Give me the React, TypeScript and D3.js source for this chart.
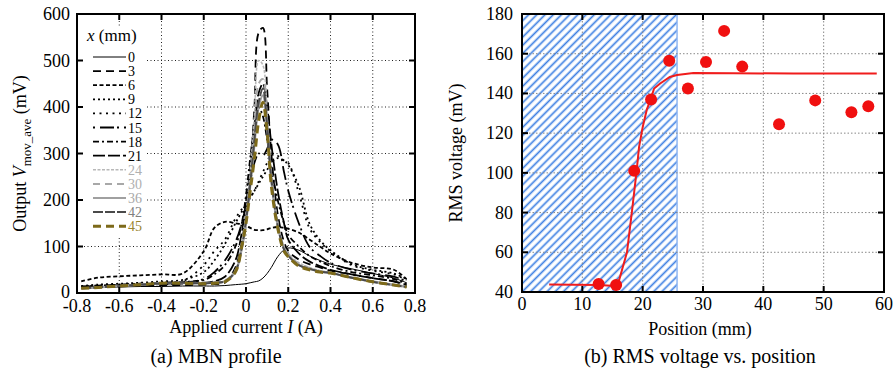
import React from 'react';
import * as d3 from 'd3';

// ---- data: (a) MBN profile ----
const currentA = [-0.78, -0.7, -0.6, -0.5, -0.4, -0.3, -0.2, -0.15, -0.1, -0.05, -0.02, 0, 0.02, 0.04, 0.06, 0.08, 0.1, 0.12, 0.15, 0.18, 0.2, 0.25, 0.3, 0.35, 0.4, 0.5, 0.6, 0.7, 0.76];

const mbn0 = [10, 12, 13, 14, 14, 15, 15, 15, 16, 18, 19, 20, 22, 24, 26, 32, 42, 55, 78, 93, 97, 92, 80, 70, 62, 52, 42, 32, 22];
const mbn3 = [12, 13, 14, 16, 17, 17, 18, 19, 22, 55, 110, 170, 260, 400, 560, 570, 440, 300, 170, 110, 90, 72, 62, 55, 48, 40, 32, 25, 16];
const mbn6 = [25, 33, 36, 38, 40, 42, 90, 140, 153, 150, 148, 145, 140, 136, 135, 135, 137, 140, 142, 140, 138, 130, 115, 100, 85, 65, 55, 50, 30];
const mbn9 = [15, 18, 20, 22, 25, 28, 45, 70, 105, 150, 175, 190, 205, 220, 235, 250, 265, 280, 290, 285, 275, 230, 150, 114, 92, 62, 50, 42, 30];
const mbn12 = [14, 16, 18, 20, 22, 25, 60, 90, 115, 160, 180, 190, 205, 220, 240, 260, 280, 300, 295, 285, 280, 215, 140, 110, 90, 60, 48, 40, 28];
const mbn15 = [12, 14, 16, 18, 20, 22, 30, 45, 70, 110, 150, 190, 240, 280, 300, 295, 310, 330, 320, 260, 220, 150, 100, 80, 65, 50, 42, 35, 25];
const mbn18 = [14, 16, 18, 20, 22, 24, 28, 40, 60, 100, 150, 210, 290, 360, 400, 380, 330, 270, 200, 150, 125, 100, 80, 68, 58, 45, 38, 30, 20];
const mbn21 = [12, 13, 15, 17, 19, 20, 22, 25, 35, 70, 130, 190, 270, 360, 430, 450, 400, 320, 220, 150, 115, 85, 68, 58, 50, 40, 32, 25, 18];
const mbn24 = [10, 12, 15, 18, 21, 22, 22, 23, 26, 50, 110, 170, 260, 380, 500, 490, 380, 260, 150, 100, 85, 65, 55, 48, 44, 34, 25, 18, 14];
const mbn30 = [10, 12, 15, 18, 21, 22, 22, 23, 27, 48, 100, 160, 245, 350, 450, 460, 370, 250, 150, 98, 84, 63, 54, 47, 43, 33, 25, 18, 14];
const mbn36 = [10, 12, 15, 18, 21, 22, 21, 22, 25, 46, 95, 152, 230, 320, 400, 425, 355, 240, 145, 95, 82, 60, 52, 46, 43, 33, 24, 17, 13];
const mbn42 = [10, 12, 15, 18, 21, 22, 21, 22, 25, 47, 98, 155, 235, 330, 410, 440, 360, 245, 145, 94, 80, 60, 52, 46, 43, 33, 24, 17, 13];
const mbn45 = [10, 12, 15, 18, 21, 21, 20, 21, 24, 45, 100, 150, 220, 290, 370, 410, 345, 230, 140, 90, 78, 58, 50, 45, 43, 33, 24, 17, 13];

const positionsX = ['0', '3', '6', '9', '12', '15', '18', '21', '24', '30', '36', '42', '45'];
const mbnSeries = [mbn0, mbn3, mbn6, mbn9, mbn12, mbn15, mbn18, mbn21, mbn24, mbn30, mbn36, mbn42, mbn45];

const xTicksA = [-0.8, -0.6, -0.4, -0.2, 0, 0.2, 0.4, 0.6, 0.8];
const yTicksA = [0, 100, 200, 300, 400, 500, 600];

// ---- data: (b) RMS voltage vs position ----
const positionMm = [12.7, 15.6, 18.6, 21.4, 24.4, 27.5, 30.5, 33.5, 36.5, 42.6, 48.6, 54.6, 57.4];
const rmsMv = [44, 43.5, 101, 137, 156.5, 142.5, 155.8, 171.5, 153.5, 124.5, 136.5, 130.5, 133.5];
const fitPos = [4.5, 12.7, 15.5, 16.1, 17.4, 18.2, 19.0, 19.4, 20.0, 20.7, 21.3, 21.9, 22.9, 24.5, 25.7, 28.4, 35, 45, 58.8];
const fitMv = [43.8, 43.5, 43, 46, 60, 80, 101, 113, 123, 132, 137, 142.5, 145, 148.3, 149.3, 150.3, 150.2, 150, 150];
const hatchRange = [0, 25.7];
const xTicksB = [0, 10, 20, 30, 40, 50, 60];
const yTicksB = [40, 60, 80, 100, 120, 140, 160, 180];

// line styles for the MBN series
const styles = [
  { stroke: '#000', width: 1, dash: null, label: '#000' },
  { stroke: '#000', width: 1.8, dash: '8,5', label: '#000' },
  { stroke: '#000', width: 1.8, dash: '4,2.5', label: '#000' },
  { stroke: '#000', width: 1.8, dash: '2,3', label: '#000' },
  { stroke: '#000', width: 1.8, dash: '2,4.5', label: '#000' },
  { stroke: '#000', width: 1.8, dash: '2,5,14,3', label: '#000' },
  { stroke: '#000', width: 1.8, dash: '6,3,2,3', label: '#000' },
  { stroke: '#000', width: 1.8, dash: '12,3', label: '#000' },
  { stroke: '#b8b8b8', width: 1.6, dash: '3,1.5', label: '#b0b0b0' },
  { stroke: '#a8a8a8', width: 2, dash: '7,5', label: '#b0b0b0' },
  { stroke: '#a0a0a0', width: 2.2, dash: null, label: '#a8a8a8' },
  { stroke: '#4a4a4a', width: 2, dash: '10,2', label: '#808080' },
  { stroke: '#7d6a1a', width: 3, dash: '8,5', label: '#9a8530' },
];

const FONT = '"Liberation Serif", "DejaVu Serif", serif';

function PanelA() {
  const m = { left: 77, right: 415, top: 14, bottom: 293 };
  const x = d3.scaleLinear().domain([-0.8, 0.8]).range([m.left, m.right]);
  const y = d3.scaleLinear().domain([0, 600]).range([m.bottom, m.top]);
  const line = d3.line<number>().x((_, i) => x(currentA[i])).y(d => y(d)).curve(d3.curveCatmullRom.alpha(0.5));
  const tick = 6;
  return (
    <g>
      {/* grid */}
      {xTicksA.slice(1, -1).map(t => (
        <line key={'gx' + t} x1={x(t)} x2={x(t)} y1={m.top} y2={m.bottom} stroke="#222" strokeWidth={1} strokeDasharray="1,2.5" />
      ))}
      {yTicksA.slice(1, -1).map(t => (
        <line key={'gy' + t} x1={m.left} x2={m.right} y1={y(t)} y2={y(t)} stroke="#222" strokeWidth={1} strokeDasharray="1,2.5" />
      ))}
      {/* legend background */}
      <rect x={79} y={27} width={67} height={209} fill="#fff" />
      {/* curves */}
      {mbnSeries.map((s, i) => (
        <path key={'c' + i} d={line(s) || ''} fill="none" stroke={styles[i].stroke} strokeWidth={styles[i].width}
          strokeDasharray={styles[i].dash || undefined} strokeLinejoin="round" />
      ))}
      {/* legend */}
      <text x={87} y={41} fontFamily={FONT} fontSize={17}>
        <tspan fontStyle="italic">x</tspan> (mm)
      </text>
      {positionsX.map((p, i) => {
        const yy = 57 + i * 14.1;
        return (
          <g key={'l' + p}>
            <line x1={93} x2={126} y1={yy} y2={yy} stroke={styles[i].stroke} strokeWidth={styles[i].width}
              strokeDasharray={styles[i].dash || undefined} />
            <text x={128} y={yy + 5} fontFamily={FONT} fontSize={14} fill={styles[i].label}>{p}</text>
          </g>
        );
      })}
      {/* frame */}
      <rect x={m.left} y={m.top} width={m.right - m.left} height={m.bottom - m.top} fill="none" stroke="#000" strokeWidth={2} />
      {xTicksA.map(t => (
        <g key={'tx' + t}>
          <line x1={x(t)} x2={x(t)} y1={m.bottom} y2={m.bottom - tick} stroke="#000" strokeWidth={2} />
          <line x1={x(t)} x2={x(t)} y1={m.top} y2={m.top + tick} stroke="#000" strokeWidth={2} />
          <text x={x(t)} y={312} textAnchor="middle" fontFamily={FONT} fontSize={18}>{t === 0 ? '0' : d3.format('.1f')(t).replace('−', '-')}</text>
        </g>
      ))}
      {yTicksA.map(t => (
        <g key={'ty' + t}>
          <line x1={m.left} x2={m.left + tick} y1={y(t)} y2={y(t)} stroke="#000" strokeWidth={2} />
          <line x1={m.right} x2={m.right - tick} y1={y(t)} y2={y(t)} stroke="#000" strokeWidth={2} />
          <text x={70} y={y(t) + (t === 0 ? 5 : 6)} textAnchor="end" fontFamily={FONT} fontSize={18}>{t}</text>
        </g>
      ))}
      <text x={(m.left + m.right) / 2} y={333} textAnchor="middle" fontFamily={FONT} fontSize={18}>
        Applied current <tspan fontStyle="italic">I</tspan> (A)
      </text>
      <text transform={`translate(26,${(m.top + m.bottom) / 2}) rotate(-90)`} textAnchor="middle" fontFamily={FONT} fontSize={18}>
        Output <tspan fontStyle="italic">V</tspan><tspan dy={5} fontSize={13}>mov_ave</tspan><tspan dy={-5}> (mV)</tspan>
      </text>
      <text x={216} y={363} textAnchor="middle" fontFamily={FONT} fontSize={20}>(a) MBN profile</text>
    </g>
  );
}

function PanelB() {
  const m = { left: 522, right: 884, top: 14, bottom: 292 };
  const x = d3.scaleLinear().domain([0, 60]).range([m.left, m.right]);
  const y = d3.scaleLinear().domain([40, 180]).range([m.bottom, m.top]);
  const fit = d3.line<number>().x((_, i) => x(fitPos[i])).y(d => y(d));
  const tick = 6;
  return (
    <g>
      <defs>
        <pattern id="hatch" patternUnits="userSpaceOnUse" width={5.8} height={10} patternTransform="rotate(45)">
          <line x1={1.4} x2={1.4} y1={0} y2={10} stroke="#3d7fe2" strokeWidth={1.7} />
        </pattern>
      </defs>
      <rect x={x(hatchRange[0])} y={m.top} width={x(hatchRange[1]) - x(hatchRange[0])} height={m.bottom - m.top} fill="url(#hatch)" />
      <line x1={x(hatchRange[1])} x2={x(hatchRange[1])} y1={m.top} y2={m.bottom} stroke="#8fb6f2" strokeWidth={1.5} />
      {xTicksB.slice(1, -1).map(t => (
        <line key={'gx' + t} x1={x(t)} x2={x(t)} y1={m.top} y2={m.bottom} stroke="#888" strokeWidth={1} strokeDasharray="1.5,2" />
      ))}
      {yTicksB.slice(1, -1).map(t => (
        <line key={'gy' + t} x1={m.left} x2={m.right} y1={y(t)} y2={y(t)} stroke="#888" strokeWidth={1} strokeDasharray="1.5,2" />
      ))}
      <path d={fit(fitMv) || ''} fill="none" stroke="#f01c1c" strokeWidth={2} />
      {positionMm.map((p, i) => (
        <circle key={'p' + i} cx={x(p)} cy={y(rmsMv[i])} r={6} fill="#f01010" />
      ))}
      <rect x={m.left} y={m.top} width={m.right - m.left} height={m.bottom - m.top} fill="none" stroke="#000" strokeWidth={2} />
      {xTicksB.map(t => (
        <g key={'tx' + t}>
          <line x1={x(t)} x2={x(t)} y1={m.bottom} y2={m.bottom - tick} stroke="#000" strokeWidth={2} />
          <line x1={x(t)} x2={x(t)} y1={m.top} y2={m.top + tick} stroke="#000" strokeWidth={2} />
          <text x={x(t)} y={310} textAnchor="middle" fontFamily={FONT} fontSize={18}>{t}</text>
        </g>
      ))}
      {yTicksB.map(t => (
        <g key={'ty' + t}>
          <line x1={m.left} x2={m.left + tick} y1={y(t)} y2={y(t)} stroke="#000" strokeWidth={2} />
          <line x1={m.right} x2={m.right - tick} y1={y(t)} y2={y(t)} stroke="#000" strokeWidth={2} />
          <text x={513} y={y(t) + 6} textAnchor="end" fontFamily={FONT} fontSize={18}>{t}</text>
        </g>
      ))}
      <text x={(m.left + m.right) / 2 - 3} y={335} textAnchor="middle" fontFamily={FONT} fontSize={18}>Position (mm)</text>
      <text transform={`translate(462,${(m.top + m.bottom) / 2}) rotate(-90)`} textAnchor="middle" fontFamily={FONT} fontSize={18}>RMS voltage (mV)</text>
      <text x={700} y={363} textAnchor="middle" fontFamily={FONT} fontSize={20}>(b) RMS voltage vs. position</text>
    </g>
  );
}

export default function App() {
  return (
    <svg width={896} height={373} style={{ position: 'absolute', left: 0, top: 0, background: '#fff' }}>
      <rect width={896} height={373} fill="#fff" />
      <PanelA />
      <PanelB />
    </svg>
  );
}
